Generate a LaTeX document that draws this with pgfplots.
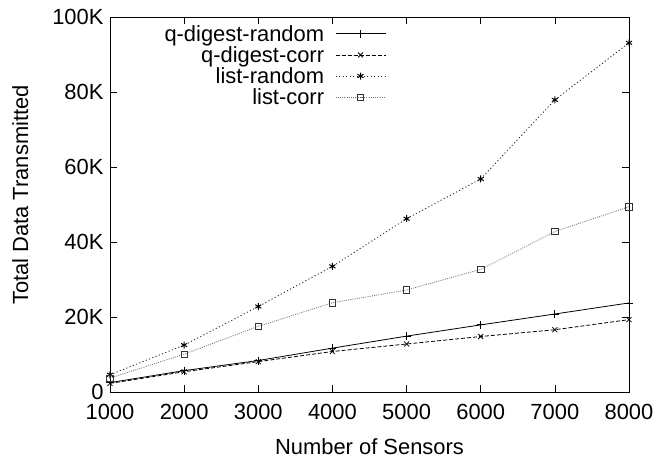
\documentclass[border=0pt]{standalone}
\usepackage{fontspec}
\setmainfont{Liberation Sans}
\usepackage{pgfplots}
\pgfplotsset{compat=1.18}
\newcommand{\gfont}{\fontsize{22}{25}\selectfont}
\begin{document}
\begin{tikzpicture}[font=\gfont]
\useasboundingbox (-110bp,-68bp) rectangle (548bp,392bp);
\begin{axis}[
  at={(0,0)}, anchor=south west,
  scale only axis, width=519bp, height=375bp,
  xmin=1000, xmax=8000, ymin=0, ymax=100000,
  xtick={1000,2000,...,8000},
  ytick={0,20000,40000,60000,80000,100000},
  yticklabels={0,20K,40K,60K,80K,100K},
  scaled ticks=false,
  xticklabel style={/pgf/number format/1000 sep={}, font=\gfont, yshift=-9bp},
  yticklabel style={font=\gfont, xshift=-3bp},
  /pgf/number format/assume math mode=true,
  tick align=inside, major tick length=7bp,
  axis line style={line width=0.9bp},
  tick style={line width=0.7bp, black},
  xlabel={Number of Sensors}, ylabel={Total Data Transmitted},
  label style={font=\gfont},
  xlabel style={at={(rel axis cs:0.5,0)}, anchor=center, yshift=-55bp},
  ylabel style={at={(rel axis cs:-0.173,0.525)}, anchor=center},
  legend plot pos=right,
  legend cell align=right,
  legend image code/.code={\draw[mark repeat=2,mark phase=2,#1] plot coordinates {(0bp,0bp) (25bp,0bp) (50bp,0bp)};},
  legend style={draw=none, fill=none, at={(0.532,0.984)}, anchor=north east, row sep=-0.3bp, column sep=9bp,
     inner sep=0pt, font=\gfont, nodes={inner sep=2bp}},
]
\addplot[black, line width=0.8bp, mark=+, mark size=4bp, mark options={solid}] coordinates {
(1000,2500) (2000,5700) (3000,8400) (4000,11700) (5000,14900) (6000,17900) (7000,20800) (8000,23750)};
\addlegendentry{q-digest-random}
\addplot[black, line width=0.8bp, dash pattern=on 4bp off 2bp, mark=x, mark size=3.5bp, mark options={solid}] coordinates {
(1000,2300) (2000,5400) (3000,8100) (4000,10800) (5000,12800) (6000,14800) (7000,16600) (8000,19300)};
\addlegendentry{q-digest-corr}
\addplot[black!85, line width=0.8bp, dash pattern=on 1.2bp off 2.3bp, mark=asterisk, mark size=3.5bp, mark options={solid, black, line width=1bp}] coordinates {
(1000,4600) (2000,12500) (3000,22800) (4000,33500) (5000,46200) (6000,56800) (7000,77900) (8000,93100)};
\addlegendentry{list-random}
\addplot[black!55, line width=0.8bp, dash pattern=on 1bp off 1.2bp, mark=square, mark size=3.2bp, mark options={solid, black!80}] coordinates {
(1000,3700) (2000,10100) (3000,17500) (4000,23800) (5000,27200) (6000,32700) (7000,42800) (8000,49400)};
\addlegendentry{list-corr}
\end{axis}
\end{tikzpicture}
\end{document}
